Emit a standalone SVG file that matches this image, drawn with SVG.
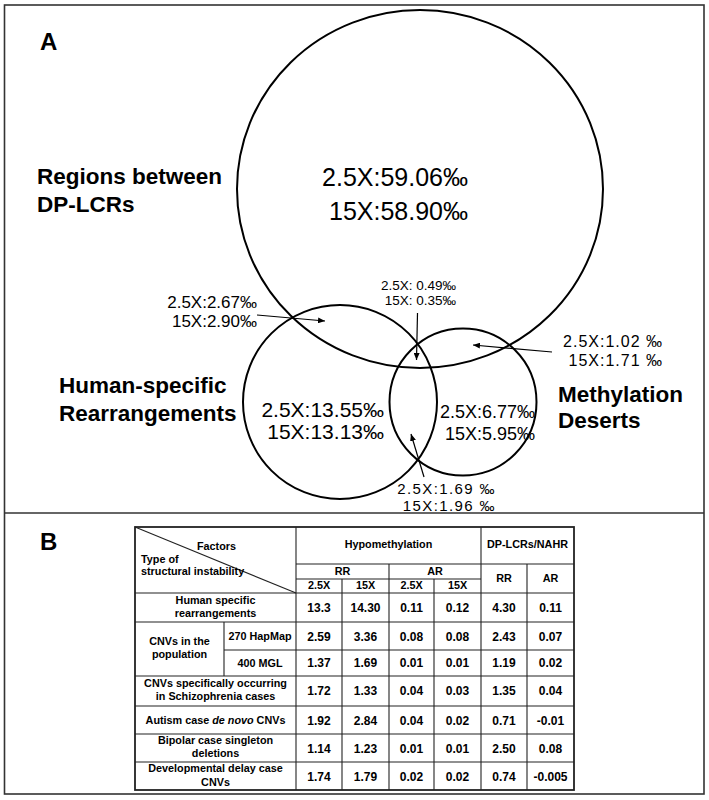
<svg xmlns="http://www.w3.org/2000/svg" width="709" height="800" viewBox="0 0 709 800">
<defs>
<style>
text{font-family:"Liberation Sans",Arial,Helvetica,sans-serif;fill:#000}
.lab{font-weight:bold;font-size:22.5px}
.pan{font-weight:bold;font-size:24px}
.circ{fill:none;stroke:#000;stroke-width:2}
.arr{stroke:#000;stroke-width:1.2;fill:none;marker-end:url(#ah)}
.tb{font-weight:bold;font-size:10.8px;text-anchor:middle}
.num{font-weight:bold;font-size:12px;text-anchor:middle}
.tl{stroke:#222;stroke-width:1.1;fill:none}
.end{text-anchor:end}
</style>
<marker id="ah" markerUnits="userSpaceOnUse" markerWidth="8" markerHeight="6" refX="7" refY="3" orient="auto">
<path d="M0,0 L7,3 L0,6 z" fill="#000"/>
</marker>
</defs>
<rect x="0" y="0" width="709" height="800" fill="#fff"/>
<rect x="4.5" y="5" width="699.5" height="789" fill="none" stroke="#333" stroke-width="1.6"/>
<line x1="4.5" y1="513" x2="704" y2="513" stroke="#333" stroke-width="1.6"/>
<text class="pan" x="40" y="50">A</text>
<text class="pan" x="40" y="550">B</text>

<g id="node-dplcr">
<ellipse class="circ" cx="420" cy="189" rx="183" ry="179"/>
<text class="lab" x="37" y="184">Regions between</text>
<text class="lab" x="37" y="212">DP-LCRs</text>
<text class="end" x="468" y="186" font-size="25">2.5X:59.06‰</text>
<text class="end" x="468" y="220" font-size="25">15X:58.90‰</text>
</g>
<g id="node-human">
<circle class="circ" cx="340" cy="402" r="97"/>
<text class="lab" x="59" y="393">Human-specific</text>
<text class="lab" x="59" y="421">Rearrangements</text>
<text class="end" x="384" y="417" font-size="21">2.5X:13.55‰</text>
<text class="end" x="384" y="439" font-size="21">15X:13.13‰</text>
</g>
<g id="node-meth">
<circle class="circ" cx="463" cy="402" r="73.5"/>
<text class="lab" x="558" y="402">Methylation</text>
<text class="lab" x="558" y="428">Deserts</text>
<text class="end" x="535" y="418" font-size="18">2.5X:6.77‰</text>
<text class="end" x="535" y="440" font-size="18">15X:5.95‰</text>
</g>
<g id="labels-overlap">
<text class="end" x="257" y="308" font-size="17">2.5X:2.67‰</text>
<text class="end" x="257" y="327" font-size="17">15X:2.90‰</text>
<text class="end" x="456" y="290" font-size="13.5">2.5X: 0.49‰</text>
<text class="end" x="456" y="305" font-size="13.5">15X: 0.35‰</text>
<text class="end" x="663" y="347" font-size="16" letter-spacing="1">2.5X:1.02 ‰</text>
<text class="end" x="663" y="366" font-size="16" letter-spacing="1">15X:1.71 ‰</text>
<text class="end" x="496" y="494" font-size="15" letter-spacing="1.4">2.5X:1.69 ‰</text>
<text class="end" x="496" y="511" font-size="15" letter-spacing="1.4">15X:1.96 ‰</text>
</g>
<g id="connectors">
<line class="arr" x1="257" y1="315" x2="325" y2="321"/>
<line class="arr" x1="417.5" y1="313" x2="416.5" y2="360"/>
<line class="arr" x1="552" y1="352" x2="473" y2="345"/>
<line class="arr" x1="424" y1="477" x2="411" y2="434"/>
</g>

<g id="table">
<g class="tl">
<line x1="135" y1="527" x2="296" y2="593"/>
<line x1="296" y1="564" x2="574" y2="564"/>
<line x1="296" y1="579" x2="481" y2="579"/>
<line x1="135" y1="593" x2="574" y2="593"/>
<line x1="135" y1="622" x2="574" y2="622"/>
<line x1="224" y1="650" x2="574" y2="650"/>
<line x1="135" y1="676" x2="574" y2="676"/>
<line x1="135" y1="706" x2="574" y2="706"/>
<line x1="135" y1="734" x2="574" y2="734"/>
<line x1="135" y1="762" x2="574" y2="762"/>
<line x1="296" y1="527" x2="296" y2="790"/>
<line x1="481" y1="527" x2="481" y2="790"/>
<line x1="389" y1="564" x2="389" y2="790"/>
<line x1="527" y1="564" x2="527" y2="790"/>
<line x1="342" y1="579" x2="342" y2="790"/>
<line x1="434" y1="579" x2="434" y2="790"/>
<line x1="224" y1="622" x2="224" y2="676"/>
</g>
<rect x="135" y="527" width="439" height="263" fill="none" stroke="#222" stroke-width="1.8"/>
<text class="tb" x="197" y="550" style="text-anchor:start">Factors</text>
<text class="tb" x="141" y="563" style="text-anchor:start">Type of</text>
<text class="tb" x="141" y="575" style="text-anchor:start">structural instability</text>
<text class="tb" x="388.5" y="548">Hypomethylation</text>
<text class="tb" x="527.5" y="548">DP-LCRs/NAHR</text>
<text class="tb" x="342.5" y="575">RR</text>
<text class="tb" x="435" y="575">AR</text>
<text class="tb" x="504" y="582">RR</text>
<text class="tb" x="550.5" y="582">AR</text>
<text class="tb" x="319" y="589">2.5X</text>
<text class="tb" x="365.5" y="589">15X</text>
<text class="tb" x="411.5" y="589">2.5X</text>
<text class="tb" x="457.5" y="589">15X</text>

<text class="tb" x="215.5" y="604">Human specific</text>
<text class="tb" x="215.5" y="617">rearrangements</text>
<text class="tb" x="179.5" y="645">CNVs in the</text>
<text class="tb" x="179.5" y="658">population</text>
<text class="tb" x="260" y="640">270 HapMap</text>
<text class="tb" x="260" y="667">400 MGL</text>
<text class="tb" x="215.5" y="687">CNVs specifically occurring</text>
<text class="tb" x="215.5" y="700">in Schizophrenia cases</text>
<text class="tb" x="215.5" y="724">Autism case <tspan font-style="italic">de novo</tspan> CNVs</text>
<text class="tb" x="215.5" y="744">Bipolar case singleton</text>
<text class="tb" x="215.5" y="757">deletions</text>
<text class="tb" x="215.5" y="772">Developmental delay case</text>
<text class="tb" x="215.5" y="786">CNVs</text>

<g id="row-human">
<text class="num" x="319" y="612">13.3</text><text class="num" x="365.5" y="612">14.30</text><text class="num" x="411.5" y="612">0.11</text><text class="num" x="457.5" y="612">0.12</text><text class="num" x="504" y="612">4.30</text><text class="num" x="550.5" y="612">0.11</text>
</g>
<g id="row-hapmap">
<text class="num" x="319" y="640.5">2.59</text><text class="num" x="365.5" y="640.5">3.36</text><text class="num" x="411.5" y="640.5">0.08</text><text class="num" x="457.5" y="640.5">0.08</text><text class="num" x="504" y="640.5">2.43</text><text class="num" x="550.5" y="640.5">0.07</text>
</g>
<g id="row-mgl">
<text class="num" x="319" y="667">1.37</text><text class="num" x="365.5" y="667">1.69</text><text class="num" x="411.5" y="667">0.01</text><text class="num" x="457.5" y="667">0.01</text><text class="num" x="504" y="667">1.19</text><text class="num" x="550.5" y="667">0.02</text>
</g>
<g id="row-schizo">
<text class="num" x="319" y="695">1.72</text><text class="num" x="365.5" y="695">1.33</text><text class="num" x="411.5" y="695">0.04</text><text class="num" x="457.5" y="695">0.03</text><text class="num" x="504" y="695">1.35</text><text class="num" x="550.5" y="695">0.04</text>
</g>
<g id="row-autism">
<text class="num" x="319" y="724.5">1.92</text><text class="num" x="365.5" y="724.5">2.84</text><text class="num" x="411.5" y="724.5">0.04</text><text class="num" x="457.5" y="724.5">0.02</text><text class="num" x="504" y="724.5">0.71</text><text class="num" x="550.5" y="724.5">-0.01</text>
</g>
<g id="row-bipolar">
<text class="num" x="319" y="752.5">1.14</text><text class="num" x="365.5" y="752.5">1.23</text><text class="num" x="411.5" y="752.5">0.01</text><text class="num" x="457.5" y="752.5">0.01</text><text class="num" x="504" y="752.5">2.50</text><text class="num" x="550.5" y="752.5">0.08</text>
</g>
<g id="row-devdelay">
<text class="num" x="319" y="780.5">1.74</text><text class="num" x="365.5" y="780.5">1.79</text><text class="num" x="411.5" y="780.5">0.02</text><text class="num" x="457.5" y="780.5">0.02</text><text class="num" x="504" y="780.5">0.74</text><text class="num" x="550.5" y="780.5">-0.005</text>
</g>
</g>
</svg>
